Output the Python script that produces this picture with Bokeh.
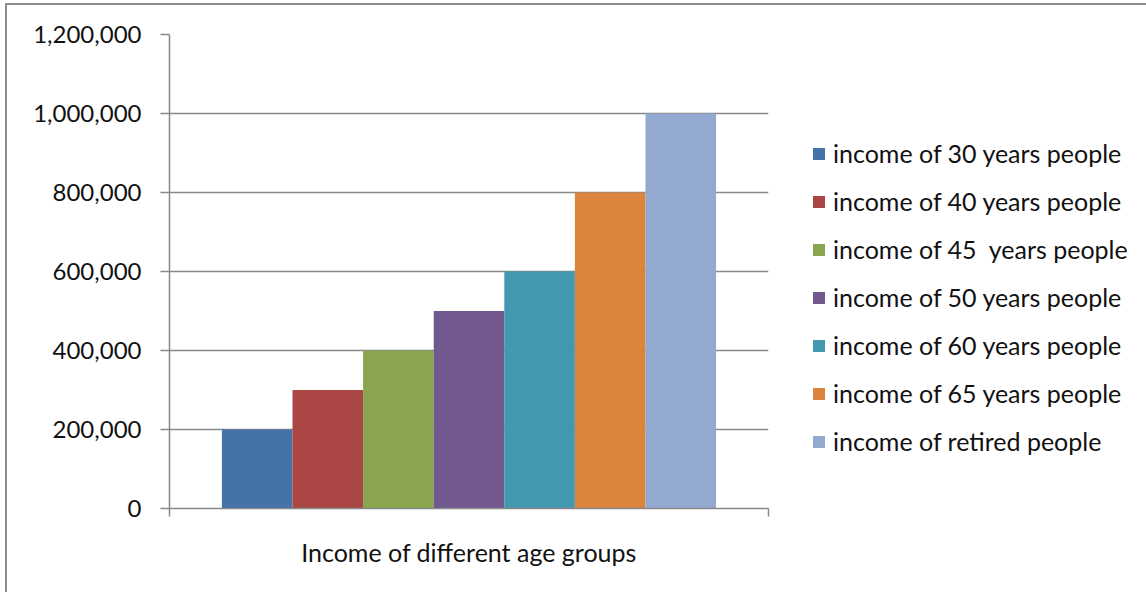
from bokeh.plotting import figure
from bokeh.models import Range1d, FixedTicker, NumeralTickFormatter, Legend, LegendItem, ColumnDataSource
from bokeh.embed import file_html
from bokeh.resources import INLINE

category = "Income of different age groups"
series = [
    "income of 30 years people",
    "income of 40 years people",
    "income of 45  years people",
    "income of 50 years people",
    "income of 60 years people",
    "income of 65 years people",
    "income of retired people",
]
values = [200000, 300000, 400000, 500000, 600000, 800000, 1000000]
colors = ["#4572A7", "#AA4643", "#89A54E", "#71588F", "#4198AF", "#DB843D", "#93A9CF"]
y_ticks = [0, 200000, 400000, 600000, 800000, 1000000, 1200000]

FONT = "Lato"
GRAY = "#898989"
TEXT = "#111111"

p = figure(
    output_backend="svg", toolbar_location=None,
    frame_width=599, frame_height=474,
    min_border_left=162, min_border_right=370, min_border_top=29, min_border_bottom=85,
    x_range=Range1d(0, 1), y_range=Range1d(0, 1200000),
)
p.styles = {"border-left": "2px solid #8c8c8c", "border-top": "2px solid #8c8c8c",
            "margin-left": "5px", "margin-top": "3px"}
p.outline_line_color = None
p.background_fill_color = "white"
p.border_fill_color = "white"

n = len(series)
group_width = 0.825
bw = group_width / n
items = []
for i, (name, v, c) in enumerate(zip(series, values, colors)):
    src = ColumnDataSource(dict(x=[0.5 + (i - (n - 1) / 2) * bw], top=[v]))
    r = p.vbar(x="x", top="top", width=bw, bottom=0, source=src, fill_color=c, line_color=None)
    items.append(LegendItem(label=name, renderers=[r]))

legend = Legend(
    items=items, location=(43, 52),
    glyph_width=15, glyph_height=15, label_height=26, spacing=18,
    label_standoff=7, padding=0, margin=0,
    border_line_color=None, background_fill_alpha=0,
    label_text_font=FONT, label_text_font_size="25px", label_text_color=TEXT,
)
p.add_layout(legend, "right")

# x axis
p.xaxis.ticker = FixedTicker(ticks=[0.5], minor_ticks=[0, 1])
p.xaxis.major_label_overrides = {0.5: category}
p.xaxis.major_tick_out = 0
p.xaxis.major_tick_in = 0
p.xaxis.minor_tick_out = 8
p.xaxis.minor_tick_in = 0
p.xaxis.minor_tick_line_color = GRAY
p.xaxis.minor_tick_line_width = 1.5
p.xaxis.axis_line_color = GRAY
p.xaxis.axis_line_width = 1.5
p.xaxis.major_label_standoff = 20
p.xaxis.major_label_text_font = FONT
p.xaxis.major_label_text_font_size = "25px"
p.xaxis.major_label_text_color = TEXT
p.xgrid.grid_line_color = None

# y axis
p.yaxis.ticker = FixedTicker(ticks=y_ticks)
p.yaxis.formatter = NumeralTickFormatter(format="0,0")
p.yaxis.major_tick_out = 9
p.yaxis.major_tick_in = 0
p.yaxis.minor_tick_line_color = None
p.yaxis.major_tick_line_color = GRAY
p.yaxis.major_tick_line_width = 1.5
p.yaxis.axis_line_color = GRAY
p.yaxis.axis_line_width = 1.5
p.yaxis.major_label_standoff = 19
p.yaxis.major_label_text_font = FONT
p.yaxis.major_label_text_font_size = "24px"
p.yaxis.major_label_text_color = TEXT
p.ygrid.grid_line_color = GRAY
p.ygrid.grid_line_width = 1.5

open("out.html", "w").write(file_html(p, INLINE))
